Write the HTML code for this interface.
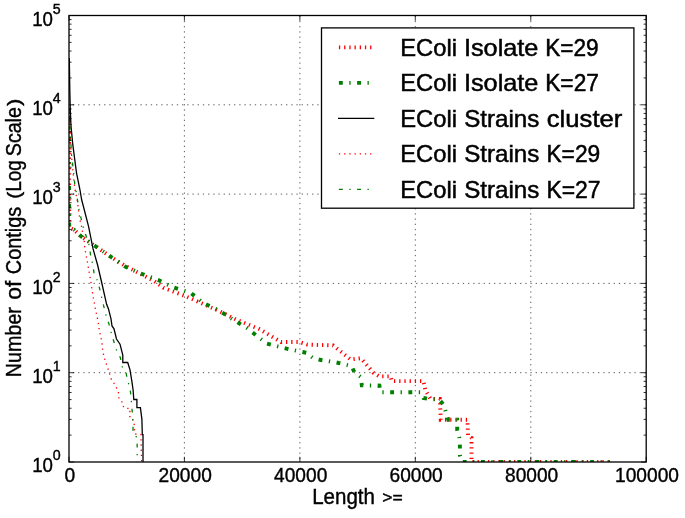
<!DOCTYPE html>
<html><head><meta charset="utf-8"><title>Contig length distribution</title>
<style>html,body{margin:0;padding:0;background:#fff;}svg{display:block;will-change:transform;}text{font-family:"Liberation Sans",sans-serif;fill:#000;stroke:#000;stroke-width:0.4px;}.lg text{stroke-width:0.5px;}</style>
</head><body>
<svg width="685" height="518" viewBox="0 0 685 518">
<rect x="0" y="0" width="685" height="518" fill="#ffffff"/>
<defs><clipPath id="ax"><rect x="69.0" y="15.5" width="577.2" height="446.5"/></clipPath></defs>
<g stroke="#000" stroke-width="0.65" stroke-dasharray="1.3 3.9" fill="none">
<line x1="184.4" y1="462.0" x2="184.4" y2="15.5" stroke-dashoffset="2.2"/>
<line x1="299.9" y1="462.0" x2="299.9" y2="15.5" stroke-dashoffset="2.2"/>
<line x1="415.3" y1="462.0" x2="415.3" y2="15.5" stroke-dashoffset="2.2"/>
<line x1="530.8" y1="462.0" x2="530.8" y2="15.5" stroke-dashoffset="2.2"/>
<line x1="69.0" y1="372.7" x2="646.2" y2="372.7" stroke-dashoffset="1.35"/>
<line x1="69.0" y1="283.4" x2="646.2" y2="283.4" stroke-dashoffset="1.35"/>
<line x1="69.0" y1="194.1" x2="646.2" y2="194.1" stroke-dashoffset="1.35"/>
<line x1="69.0" y1="104.8" x2="646.2" y2="104.8" stroke-dashoffset="1.35"/>
</g>
<g clip-path="url(#ax)" fill="none">
<path d="M69.0,116.0 L69.2,228.0 L74.0,229.6 L81.3,236.6 L95.9,246.5 L110.6,256.7 L124.5,265.5 L153.8,280.9 L164.0,288.1 L183.4,295.3 L201.9,303.4 L218.2,310.6 L234.6,318.8 L259.2,329.0 L281.0,342.0 L299.4,342.0 L307.5,344.6 L333.1,345.4 L350.5,359.4 L360.8,358.3 L365.1,363.0 L373.3,372.7 L379.4,376.4 L390.7,376.4 L391.7,381.1 L423.4,381.1 L425.5,390.7 L430.6,398.9 L439.8,398.9 L440.8,419.8 L467.5,419.8 L468.0,435.7 L471.5,437.8 L471.5,462.0 L610.0,462.0" stroke="#ff0000" stroke-width="3.9" stroke-dasharray="1.3 3.9"/>
<path d="M69.0,186.0 L69.2,228.0 L74.0,229.6 L81.3,236.6 L95.9,246.5 L110.6,256.7 L125.1,266.6 L141.5,273.8 L157.9,279.9 L173.6,287.5 L190.6,292.8 L203.5,303.0 L219.3,310.6 L232.6,319.4 L246.9,328.0 L259.4,337.9 L266.6,343.4 L273.8,345.4 L290.1,349.5 L306.5,352.8 L312.7,357.7 L319.8,359.8 L336.2,362.4 L351.5,365.9 L354.6,372.7 L360.8,377.0 L361.8,385.3 L379.4,385.6 L380.5,392.3 L420.4,392.3 L423.4,397.9 L430.6,399.3 L438.8,399.3 L443.9,405.0 L446.0,412.8 L448.4,419.8 L457.2,419.8 L457.2,430.0 L459.3,437.8 L459.9,446.4 L459.9,455.2 L462.3,462.0 L610.0,462.0" stroke="#008000" stroke-width="3.9" stroke-dasharray="3.9 6.5 1.3 6.5"/>
<path d="M69,117 L69,121 M69,137 L69,141 M69,162 L69,163.3" stroke="#008000" stroke-width="3.9"/>
<path d="M69.3,58.0 L69.8,90.0 L70.3,110.0 L71.0,126.0 L72.8,144.7 L76.5,172.8 L80.0,190.0 L81.7,200.0 L83.3,206.0 L88.6,226.7 L93.0,248.7 L97.6,265.0 L101.8,283.0 L106.6,304.3 L108.4,308.7 L111.0,318.9 L112.0,326.0 L114.0,328.8 L116.5,339.0 L120.0,344.2 L122.8,355.2 L122.8,362.5 L127.7,362.5 L130.0,369.9 L131.8,380.9 L133.1,390.0 L133.8,399.5 L136.9,399.5 L136.9,407.6 L140.4,407.6 L141.9,419.3 L142.3,434.7 L143.0,434.7 L143.0,462.0" stroke="#000" stroke-width="1.3"/>
<path d="M69.3,112.0 L70.0,135.0 L71.0,150.0 L72.5,167.4 L74.7,188.0 L77.6,201.8 L78.3,209.0 L79.8,219.3 L81.3,225.2 L84.2,240.6 L84.9,248.7 L87.1,260.4 L91.0,283.0 L93.4,298.4 L95.9,311.6 L97.8,320.0 L99.3,330.3 L101.8,341.3 L102.8,351.5 L105.2,361.0 L108.4,370.0 L111.0,378.7 L115.7,386.0 L118.4,392.0 L118.9,398.0 L121.8,401.0 L122.2,405.4 L125.2,408.3 L129.9,408.3 L129.9,418.6 L134.0,420.5 L134.5,430.3 L135.0,434.0 L140.9,434.5 L141.6,462.0" stroke="#ff0000" stroke-width="1.3" stroke-dasharray="1.3 3.9"/>
<path d="M69.3,108.0 L70.0,130.0 L71.7,156.4 L73.9,174.0 L74.7,183.5 L76.4,193.0 L77.3,198.8 L79.1,210.5 L83.5,228.1 L89.3,245.7 L90.5,254.4 L92.6,263.9 L94.0,272.7 L97.4,280.8 L99.9,289.6 L101.8,298.4 L104.0,307.2 L106.2,316.0 L109.1,324.4 L111.3,333.2 L114.0,342.0 L116.5,350.0 L120.4,357.8 L121.9,366.2 L126.0,372.5 L127.4,380.0 L130.0,388.0 L131.0,396.6 L132.0,409.0 L132.5,415.0 L133.0,424.5 L133.0,433.0 L136.9,437.6 L137.2,447.0 L137.2,462.0" stroke="#008000" stroke-width="1.3" stroke-dasharray="3.9 6.5 1.3 6.5"/>
</g>
<g stroke="#000" stroke-width="0.8" fill="none">
<line x1="69.0" y1="462.0" x2="69.0" y2="456.8"/>
<line x1="69.0" y1="15.5" x2="69.0" y2="20.7"/>
<line x1="184.4" y1="462.0" x2="184.4" y2="456.8"/>
<line x1="184.4" y1="15.5" x2="184.4" y2="20.7"/>
<line x1="299.9" y1="462.0" x2="299.9" y2="456.8"/>
<line x1="299.9" y1="15.5" x2="299.9" y2="20.7"/>
<line x1="415.3" y1="462.0" x2="415.3" y2="456.8"/>
<line x1="415.3" y1="15.5" x2="415.3" y2="20.7"/>
<line x1="530.8" y1="462.0" x2="530.8" y2="456.8"/>
<line x1="530.8" y1="15.5" x2="530.8" y2="20.7"/>
<line x1="646.2" y1="462.0" x2="646.2" y2="456.8"/>
<line x1="646.2" y1="15.5" x2="646.2" y2="20.7"/>
<line x1="69.0" y1="462.0" x2="74.2" y2="462.0"/>
<line x1="646.2" y1="462.0" x2="641.0" y2="462.0"/>
<line x1="69.0" y1="435.12" x2="71.6" y2="435.12"/>
<line x1="646.2" y1="435.12" x2="643.6" y2="435.12"/>
<line x1="69.0" y1="419.39" x2="71.6" y2="419.39"/>
<line x1="646.2" y1="419.39" x2="643.6" y2="419.39"/>
<line x1="69.0" y1="408.24" x2="71.6" y2="408.24"/>
<line x1="646.2" y1="408.24" x2="643.6" y2="408.24"/>
<line x1="69.0" y1="399.58" x2="71.6" y2="399.58"/>
<line x1="646.2" y1="399.58" x2="643.6" y2="399.58"/>
<line x1="69.0" y1="392.51" x2="71.6" y2="392.51"/>
<line x1="646.2" y1="392.51" x2="643.6" y2="392.51"/>
<line x1="69.0" y1="386.53" x2="71.6" y2="386.53"/>
<line x1="646.2" y1="386.53" x2="643.6" y2="386.53"/>
<line x1="69.0" y1="381.35" x2="71.6" y2="381.35"/>
<line x1="646.2" y1="381.35" x2="643.6" y2="381.35"/>
<line x1="69.0" y1="376.79" x2="71.6" y2="376.79"/>
<line x1="646.2" y1="376.79" x2="643.6" y2="376.79"/>
<line x1="69.0" y1="372.7" x2="74.2" y2="372.7"/>
<line x1="646.2" y1="372.7" x2="641.0" y2="372.7"/>
<line x1="69.0" y1="345.82" x2="71.6" y2="345.82"/>
<line x1="646.2" y1="345.82" x2="643.6" y2="345.82"/>
<line x1="69.0" y1="330.09" x2="71.6" y2="330.09"/>
<line x1="646.2" y1="330.09" x2="643.6" y2="330.09"/>
<line x1="69.0" y1="318.94" x2="71.6" y2="318.94"/>
<line x1="646.2" y1="318.94" x2="643.6" y2="318.94"/>
<line x1="69.0" y1="310.28" x2="71.6" y2="310.28"/>
<line x1="646.2" y1="310.28" x2="643.6" y2="310.28"/>
<line x1="69.0" y1="303.21" x2="71.6" y2="303.21"/>
<line x1="646.2" y1="303.21" x2="643.6" y2="303.21"/>
<line x1="69.0" y1="297.23" x2="71.6" y2="297.23"/>
<line x1="646.2" y1="297.23" x2="643.6" y2="297.23"/>
<line x1="69.0" y1="292.05" x2="71.6" y2="292.05"/>
<line x1="646.2" y1="292.05" x2="643.6" y2="292.05"/>
<line x1="69.0" y1="287.49" x2="71.6" y2="287.49"/>
<line x1="646.2" y1="287.49" x2="643.6" y2="287.49"/>
<line x1="69.0" y1="283.4" x2="74.2" y2="283.4"/>
<line x1="646.2" y1="283.4" x2="641.0" y2="283.4"/>
<line x1="69.0" y1="256.52" x2="71.6" y2="256.52"/>
<line x1="646.2" y1="256.52" x2="643.6" y2="256.52"/>
<line x1="69.0" y1="240.79" x2="71.6" y2="240.79"/>
<line x1="646.2" y1="240.79" x2="643.6" y2="240.79"/>
<line x1="69.0" y1="229.64" x2="71.6" y2="229.64"/>
<line x1="646.2" y1="229.64" x2="643.6" y2="229.64"/>
<line x1="69.0" y1="220.98" x2="71.6" y2="220.98"/>
<line x1="646.2" y1="220.98" x2="643.6" y2="220.98"/>
<line x1="69.0" y1="213.91" x2="71.6" y2="213.91"/>
<line x1="646.2" y1="213.91" x2="643.6" y2="213.91"/>
<line x1="69.0" y1="207.93" x2="71.6" y2="207.93"/>
<line x1="646.2" y1="207.93" x2="643.6" y2="207.93"/>
<line x1="69.0" y1="202.75" x2="71.6" y2="202.75"/>
<line x1="646.2" y1="202.75" x2="643.6" y2="202.75"/>
<line x1="69.0" y1="198.19" x2="71.6" y2="198.19"/>
<line x1="646.2" y1="198.19" x2="643.6" y2="198.19"/>
<line x1="69.0" y1="194.1" x2="74.2" y2="194.1"/>
<line x1="646.2" y1="194.1" x2="641.0" y2="194.1"/>
<line x1="69.0" y1="167.22" x2="71.6" y2="167.22"/>
<line x1="646.2" y1="167.22" x2="643.6" y2="167.22"/>
<line x1="69.0" y1="151.49" x2="71.6" y2="151.49"/>
<line x1="646.2" y1="151.49" x2="643.6" y2="151.49"/>
<line x1="69.0" y1="140.34" x2="71.6" y2="140.34"/>
<line x1="646.2" y1="140.34" x2="643.6" y2="140.34"/>
<line x1="69.0" y1="131.68" x2="71.6" y2="131.68"/>
<line x1="646.2" y1="131.68" x2="643.6" y2="131.68"/>
<line x1="69.0" y1="124.61" x2="71.6" y2="124.61"/>
<line x1="646.2" y1="124.61" x2="643.6" y2="124.61"/>
<line x1="69.0" y1="118.63" x2="71.6" y2="118.63"/>
<line x1="646.2" y1="118.63" x2="643.6" y2="118.63"/>
<line x1="69.0" y1="113.45" x2="71.6" y2="113.45"/>
<line x1="646.2" y1="113.45" x2="643.6" y2="113.45"/>
<line x1="69.0" y1="108.89" x2="71.6" y2="108.89"/>
<line x1="646.2" y1="108.89" x2="643.6" y2="108.89"/>
<line x1="69.0" y1="104.8" x2="74.2" y2="104.8"/>
<line x1="646.2" y1="104.8" x2="641.0" y2="104.8"/>
<line x1="69.0" y1="77.92" x2="71.6" y2="77.92"/>
<line x1="646.2" y1="77.92" x2="643.6" y2="77.92"/>
<line x1="69.0" y1="62.19" x2="71.6" y2="62.19"/>
<line x1="646.2" y1="62.19" x2="643.6" y2="62.19"/>
<line x1="69.0" y1="51.04" x2="71.6" y2="51.04"/>
<line x1="646.2" y1="51.04" x2="643.6" y2="51.04"/>
<line x1="69.0" y1="42.38" x2="71.6" y2="42.38"/>
<line x1="646.2" y1="42.38" x2="643.6" y2="42.38"/>
<line x1="69.0" y1="35.31" x2="71.6" y2="35.31"/>
<line x1="646.2" y1="35.31" x2="643.6" y2="35.31"/>
<line x1="69.0" y1="29.33" x2="71.6" y2="29.33"/>
<line x1="646.2" y1="29.33" x2="643.6" y2="29.33"/>
<line x1="69.0" y1="24.15" x2="71.6" y2="24.15"/>
<line x1="646.2" y1="24.15" x2="643.6" y2="24.15"/>
<line x1="69.0" y1="19.59" x2="71.6" y2="19.59"/>
<line x1="646.2" y1="19.59" x2="643.6" y2="19.59"/>
<line x1="69.0" y1="15.5" x2="74.2" y2="15.5"/>
<line x1="646.2" y1="15.5" x2="641.0" y2="15.5"/>
</g>
<rect x="69.0" y="15.5" width="577.2" height="446.5" fill="none" stroke="#000" stroke-width="1.3"/>
<text x="69.8" y="482.1" font-size="20.8" text-anchor="middle" textLength="10.7" lengthAdjust="spacingAndGlyphs">0</text>
<text x="185.2" y="482.1" font-size="20.8" text-anchor="middle" textLength="53.2" lengthAdjust="spacingAndGlyphs">20000</text>
<text x="300.7" y="482.1" font-size="20.8" text-anchor="middle" textLength="53.2" lengthAdjust="spacingAndGlyphs">40000</text>
<text x="416.1" y="482.1" font-size="20.8" text-anchor="middle" textLength="53.2" lengthAdjust="spacingAndGlyphs">60000</text>
<text x="531.6" y="482.1" font-size="20.8" text-anchor="middle" textLength="53.2" lengthAdjust="spacingAndGlyphs">80000</text>
<text x="647.0" y="482.1" font-size="20.8" text-anchor="middle" textLength="63.9" lengthAdjust="spacingAndGlyphs">100000</text>
<text x="32.2" y="472.2" font-size="20.9" textLength="20.8" lengthAdjust="spacingAndGlyphs">10</text>
<text x="52.7" y="460.1" font-size="14.6" textLength="7.9" lengthAdjust="spacingAndGlyphs">0</text>
<text x="32.2" y="382.9" font-size="20.9" textLength="20.8" lengthAdjust="spacingAndGlyphs">10</text>
<text x="52.7" y="370.8" font-size="14.6" textLength="7.9" lengthAdjust="spacingAndGlyphs">1</text>
<text x="32.2" y="293.6" font-size="20.9" textLength="20.8" lengthAdjust="spacingAndGlyphs">10</text>
<text x="52.7" y="281.5" font-size="14.6" textLength="7.9" lengthAdjust="spacingAndGlyphs">2</text>
<text x="32.2" y="204.3" font-size="20.9" textLength="20.8" lengthAdjust="spacingAndGlyphs">10</text>
<text x="52.7" y="192.2" font-size="14.6" textLength="7.9" lengthAdjust="spacingAndGlyphs">3</text>
<text x="32.2" y="115.0" font-size="20.9" textLength="20.8" lengthAdjust="spacingAndGlyphs">10</text>
<text x="52.7" y="102.9" font-size="14.6" textLength="7.9" lengthAdjust="spacingAndGlyphs">4</text>
<text x="32.2" y="25.7" font-size="20.9" textLength="20.8" lengthAdjust="spacingAndGlyphs">10</text>
<text x="52.7" y="13.6" font-size="14.6" textLength="7.9" lengthAdjust="spacingAndGlyphs">5</text>
<text x="312.20" y="503.70" font-size="21.40" textLength="62.76" lengthAdjust="spacingAndGlyphs">Length</text>
<text x="382.38" y="502.90" font-size="17.00" textLength="20.47" lengthAdjust="spacingAndGlyphs">&gt;=</text>
<g transform="translate(20.8,0) rotate(-90)">
<text x="-377.14" y="0.00" font-size="21.40" textLength="70.03" lengthAdjust="spacingAndGlyphs">Number</text>
<text x="-299.71" y="0.00" font-size="21.40" textLength="19.04" lengthAdjust="spacingAndGlyphs">of</text>
<text x="-274.13" y="0.00" font-size="21.40" textLength="67.35" lengthAdjust="spacingAndGlyphs">Contigs</text>
<text x="-198.77" y="-0.50" font-size="19.00" textLength="6.87" lengthAdjust="spacingAndGlyphs">(</text>
<text x="-191.57" y="0.00" font-size="21.40" textLength="31.32" lengthAdjust="spacingAndGlyphs">Log</text>
<text x="-156.21" y="0.00" font-size="21.40" textLength="49.11" lengthAdjust="spacingAndGlyphs">Scale</text>
<text x="-105.90" y="-0.50" font-size="19.00" textLength="7.34" lengthAdjust="spacingAndGlyphs">)</text>
</g>
<rect x="321.5" y="27.9" width="312.4" height="180.3" fill="#fff" stroke="#000" stroke-width="1.3"/>
<line x1="338.9" y1="47.4" x2="374.3" y2="47.4" stroke="#ff0000" stroke-width="3.9" stroke-dasharray="1.3 3.9"/>
<line x1="338.9" y1="82.9" x2="374.3" y2="82.9" stroke="#008000" stroke-width="3.9" stroke-dasharray="3.9 6.5 1.3 6.5"/>
<line x1="338.0" y1="118.3" x2="374.3" y2="118.3" stroke="#000" stroke-width="1.3"/>
<line x1="338.9" y1="153.8" x2="374.3" y2="153.8" stroke="#ff0000" stroke-width="1.3" stroke-dasharray="1.3 3.9"/>
<line x1="338.9" y1="189.3" x2="374.3" y2="189.3" stroke="#008000" stroke-width="1.3" stroke-dasharray="3.9 6.5 1.3 6.5"/>
<g class="lg">
<text x="400.25" y="55.70" font-size="24.00" textLength="56.72" lengthAdjust="spacingAndGlyphs">EColi</text>
<text x="463.92" y="55.70" font-size="24.00" textLength="74.50" lengthAdjust="spacingAndGlyphs">Isolate</text>
<text x="545.23" y="55.70" font-size="24.00" textLength="53.49" lengthAdjust="spacingAndGlyphs">K=29</text>
<text x="400.25" y="91.20" font-size="24.00" textLength="56.72" lengthAdjust="spacingAndGlyphs">EColi</text>
<text x="463.92" y="91.20" font-size="24.00" textLength="74.50" lengthAdjust="spacingAndGlyphs">Isolate</text>
<text x="545.22" y="91.20" font-size="24.00" textLength="53.70" lengthAdjust="spacingAndGlyphs">K=27</text>
<text x="400.25" y="126.70" font-size="24.00" textLength="56.72" lengthAdjust="spacingAndGlyphs">EColi</text>
<text x="464.15" y="126.70" font-size="24.00" textLength="75.11" lengthAdjust="spacingAndGlyphs">Strains</text>
<text x="546.80" y="126.70" font-size="24.00" textLength="75.53" lengthAdjust="spacingAndGlyphs">cluster</text>
<text x="400.25" y="162.20" font-size="24.00" textLength="56.72" lengthAdjust="spacingAndGlyphs">EColi</text>
<text x="464.15" y="162.20" font-size="24.00" textLength="75.11" lengthAdjust="spacingAndGlyphs">Strains</text>
<text x="546.42" y="162.20" font-size="24.00" textLength="53.80" lengthAdjust="spacingAndGlyphs">K=29</text>
<text x="400.25" y="197.70" font-size="24.00" textLength="56.72" lengthAdjust="spacingAndGlyphs">EColi</text>
<text x="464.15" y="197.70" font-size="24.00" textLength="75.11" lengthAdjust="spacingAndGlyphs">Strains</text>
<text x="546.41" y="197.70" font-size="24.00" textLength="54.22" lengthAdjust="spacingAndGlyphs">K=27</text>
</g>
</svg>
</body></html>
